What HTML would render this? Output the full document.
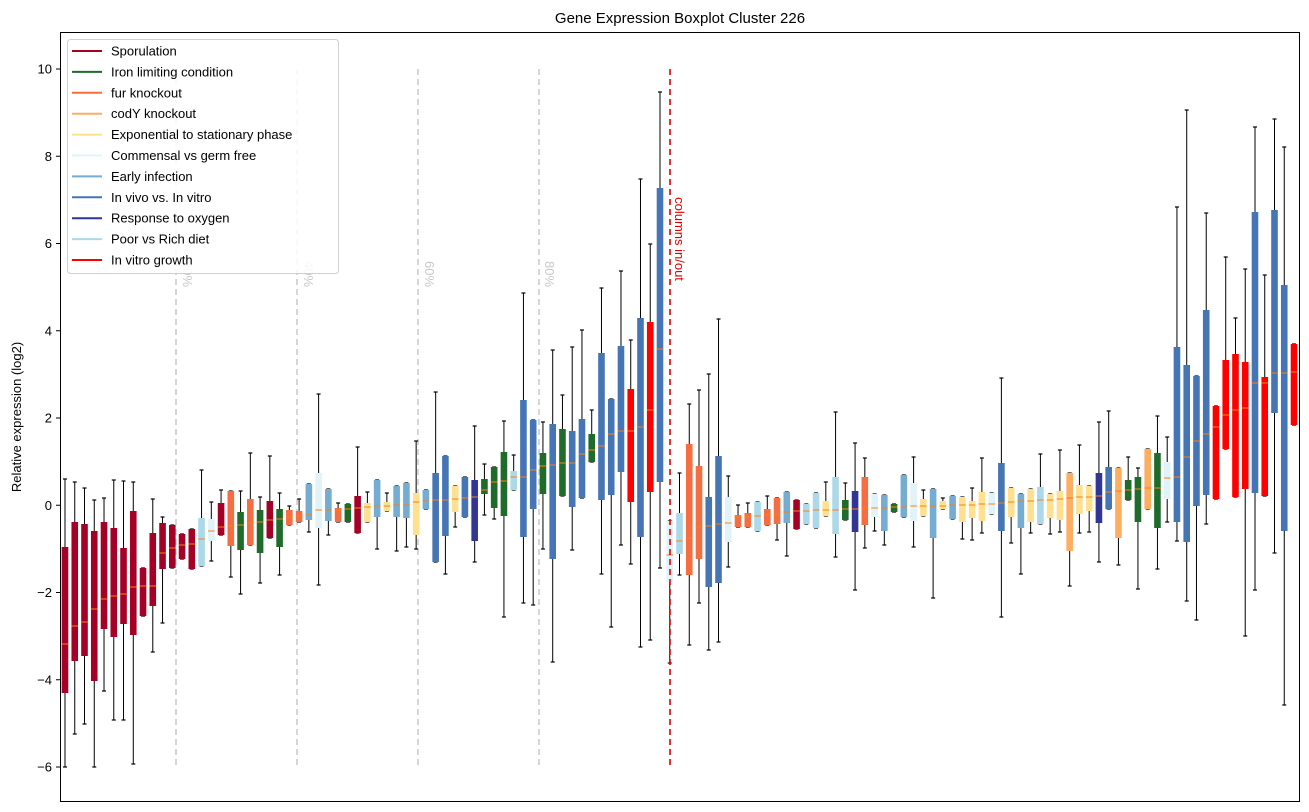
<!DOCTYPE html>
<html><head><meta charset="utf-8"><style>
html,body{margin:0;padding:0;background:#fff}
svg{display:block;font-family:"Liberation Sans","DejaVu Sans",sans-serif}
</style></head><body>
<svg id="s" width="1309" height="812" viewBox="0 0 1309 812" xmlns="http://www.w3.org/2000/svg">
<rect x="0" y="0" width="1309" height="812" fill="#fff"/>
<text x="680" y="23" font-size="15" text-anchor="middle" fill="#000">Gene Expression Boxplot Cluster 226</text>
<text transform="translate(21,417) rotate(-90)" font-size="13" text-anchor="middle" fill="#000">Relative expression (log2)</text>
<g id="grid" stroke="#c8c8c8" stroke-width="1.5" stroke-dasharray="6,4">
<line x1="176" y1="69" x2="176" y2="767"/>
<line x1="297" y1="69" x2="297" y2="767"/>
<line x1="418" y1="69" x2="418" y2="767"/>
<line x1="539" y1="69" x2="539" y2="767"/>
</g>
<g font-size="13" fill="#c8c8c8">
<text transform="translate(183,274) rotate(90)" text-anchor="middle">20%</text>
<text transform="translate(304,274) rotate(90)" text-anchor="middle">40%</text>
<text transform="translate(425,274) rotate(90)" text-anchor="middle">60%</text>
<text transform="translate(545,274) rotate(90)" text-anchor="middle">80%</text>
</g>
<g id="boxes"></g>
<line x1="670" y1="69" x2="670" y2="767" stroke="#e00000" stroke-width="1.6" stroke-dasharray="6,4"/>
<text transform="translate(675,239) rotate(90)" font-size="13" text-anchor="middle" fill="#e00000">columns in/out</text>
<rect x="60.5" y="32.5" width="1239" height="769" fill="none" stroke="#000" stroke-width="1"/>
<g id="ticks" font-size="13" fill="#000" text-anchor="end"></g>
<g id="legend">
<rect x="67.5" y="39.5" width="271" height="234" rx="3" fill="#fff" fill-opacity="0.85" stroke="#d0d0d0"/>
</g>
</svg>
<script>
var C={S:"#a50026",I:"#1f6b2a",F:"#f46d43",C:"#fdae61",E:"#fee090",M:"#e0f3f8",A:"#74add1",V:"#4575b4",O:"#313695",P:"#abd9e9",R:"#ff0000"};
var D=[
"S 479 547 644 693 767","S 482 522 626 661 734","S 488 524 622 656 724","S 500 531 609 681 767","S 498 522 599 629 691",
"S 480 528 596 637 720","S 481 548 594 624 720","S 482 511 587 635 764","S 568 568 586 616 616","S 499 533 586 606 652",
"S 517 523 553 569 623","S 525 525 548 568 568","S 534 534 545 559 559","S 529 529 544 569 569","P 470 518 539 566 566",
"M 502 519 531 541 561","S 490 503 527 535 535","F 491 491 526 546 577","I 491 512 525 550 594","F 453 499 523 545 545",
"I 497 510 522 553 583","S 456 501 520 538 538","I 493 509 519 547 575","F 506 510 517 525 525","F 499 511 516 522 522",
"A 484 484 515 520 532","M 394 473 510 528 585","A 489 489 510 521 535","F 503 508 510 522 522","I 504 504 509 522 522",
"S 447 496 508 533 533","E 492 503 507 522 522","A 480 480 506 517 549","E 493 502 506 511 511","A 486 486 505 517 551",
"A 483 483 505 518 547","E 441 493 502 535 549","A 490 490 501 509 509","V 392 473 500 562 562","V 456 456 500 536 574",
"E 486 486 499 512 527","V 477 477 498 517 517","O 426 480 497 541 562",
"I 464 479 490 494 515","I 467 467 482 508 519","I 421 452 481 516 617","P 455 471 477 490 490","V 293 400 477 537 603",
"V 420 420 470 509 605","I 422 453 466 494 549","V 350 424 465 559 662","I 395 429 463 496 496","V 347 431 463 507 550",
"V 330 419 454 498 498","I 410 434 450 462 462","V 288 353 446 500 574","V 399 399 434 495 627","V 271 346 431 472 545",
"R 340 389 431 502 564","V 179 318 427 537 647","R 244 322 410 492 640","V 92 188 349 482 568",
"M 521 521 555 582 663","P 473 513 541 554 575","F 404 444 538 575 645","F 390 466 527 559 603","V 374 497 526 587 650",
"V 319 456 524 583 642","M 476 497 523 542 567","F 505 515 517 527 527","F 503 513 517 527 527","P 502 502 516 531 531",
"F 496 509 515 525 525","F 498 498 514 524 540","A 492 492 512 523 556","S 500 500 511 529 529","P 504 504 511 524 524",
"P 493 493 510 528 528","E 482 501 510 516 516","P 412 477 510 534 557","I 483 500 509 520 520","O 443 491 509 532 590",
"F 458 477 508 525 548","M 494 494 508 517 531",
"A 495 495 508 531 545","I 504 504 507 512 512","A 475 475 507 517 517","M 457 483 506 521 547","E 490 499 506 516 516",
"A 489 489 506 538 598","E 498 501 506 509 509","A 496 496 505 519 519","E 497 497 505 522 539","E 488 501 505 518 540",
"E 458 492 504 521 533","M 493 493 504 514 514","V 378 463 503 531 617","E 488 488 502 517 543","A 494 494 501 528 574",
"E 489 489 501 522 533","P 454 487 500 524 524","E 494 494 500 518 534","E 450 491 499 520 532","C 473 473 498 551 586",
"E 445 485 497 514 533","E 486 486 497 511 532",
"O 422 473 496 523 562","V 411 467 492 509 509","C 468 468 491 538 565","I 457 480 490 500 500","I 468 477 489 522 589",
"C 449 449 488 509 509","I 416 453 488 528 569","M 437 462 478 499 522","V 207 347 477 522 541","V 110 365 457 542 601",
"V 376 376 441 506 620","V 213 310 434 495 524","R 406 406 427 499 499","R 257 360 415 449 449","R 318 354 410 497 497",
"R 269 362 408 489 636","V 127 212 383 493 590","R 275 377 383 496 496","V 119 210 373 413 553","V 147 285 373 531 705",
"R 344 344 372 425 425"];
var g=document.getElementById("boxes"),h="";
D.forEach(function(s,i){var p=s.split(" "),c=C[p[0]],wt=+p[1],bt=+p[2],md=+p[3],bb=+p[4],wb=+p[5],x=65+i*9.754;
 if(wt<bt){h+='<line x1="'+x+'" y1="'+wt+'" x2="'+x+'" y2="'+bt+'" stroke="#000" stroke-width="1"/>';}
 h+='<line x1="'+(x-2)+'" y1="'+wt+'" x2="'+(x+2)+'" y2="'+wt+'" stroke="#000" stroke-width="1.2"/>';
 if(wb>bb){h+='<line x1="'+x+'" y1="'+bb+'" x2="'+x+'" y2="'+wb+'" stroke="#000" stroke-width="1"/>';}
 h+='<line x1="'+(x-2)+'" y1="'+wb+'" x2="'+(x+2)+'" y2="'+wb+'" stroke="#000" stroke-width="1.2"/>';
 h+='<rect x="'+(x-3.3)+'" y="'+bt+'" width="6.6" height="'+Math.max(bb-bt,1)+'" fill="'+c+'"/>';
 h+='<line x1="'+(x-3.3)+'" y1="'+md+'" x2="'+(x+3.3)+'" y2="'+md+'" stroke="#ff7f0e" stroke-width="1"/>';
});
g.innerHTML=h;
var t=document.getElementById("ticks"),th="";
for(var v=-6;v<=10;v+=2){var y=69+(10-v)*43.625;th+='<line x1="56" y1="'+y+'" x2="60" y2="'+y+'" stroke="#000"/><text x="52" y="'+(y+4.5)+'">'+(v<0?"\u2212"+(-v):v)+'</text>';}
t.innerHTML=th;
var L=[["#a50026","Sporulation"],["#1f6b2a","Iron limiting condition"],["#f46d43","fur knockout"],["#fdae61","codY knockout"],["#fee090","Exponential to stationary phase"],["#e0f3f8","Commensal vs germ free"],["#74add1","Early infection"],["#4575b4","In vivo vs. In vitro"],["#313695","Response to oxygen"],["#abd9e9","Poor vs Rich diet"],["#ff0000","In vitro growth"]];
var lg=document.getElementById("legend"),lh=lg.innerHTML;
L.forEach(function(e,i){var y=51+i*20.9;lh+='<line x1="72" y1="'+y+'" x2="102" y2="'+y+'" stroke="'+e[0]+'" stroke-width="2"/><text x="111" y="'+(y+4.5)+'" font-size="13" fill="#000">'+e[1]+'</text>';});
lg.innerHTML=lh;
</script>
</body></html>
